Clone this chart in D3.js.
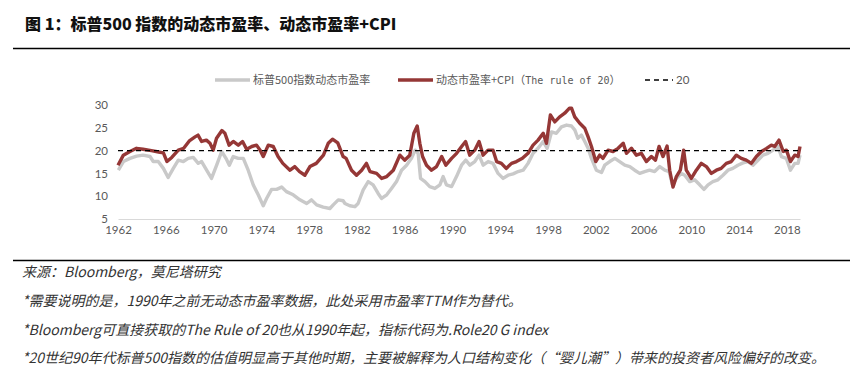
<!DOCTYPE html>
<html>
<head>
<meta charset="utf-8">
<script src="https://cdn.jsdelivr.net/npm/d3@7"></script>
<style>
  body { margin: 0; background: #fff; }
  svg { display: block; }
</style>
</head>
<body>
<div id="chart"></div>
<script>
// 标普500动态市盈率 (decimal year, value)
const peSeries = [
  [1962.03, 15.7], [1962.45, 17.6], [1963.0, 18.3], [1963.56, 18.8], [1964.1, 19.0],
  [1964.68, 18.7], [1964.95, 17.6], [1965.37, 17.6], [1965.8, 16.1], [1966.2, 14.1],
  [1966.63, 16.1], [1967.05, 17.9], [1967.47, 17.6], [1967.88, 18.3], [1968.3, 18.5],
  [1968.72, 17.2], [1969.0, 17.6], [1969.42, 15.7], [1969.83, 13.9], [1970.26, 16.8],
  [1970.68, 19.8], [1971.04, 18.3], [1971.32, 16.8], [1971.65, 18.7], [1972.07, 18.3],
  [1972.49, 18.3], [1972.9, 15.7], [1973.32, 12.5], [1973.74, 10.3], [1974.16, 7.9],
  [1974.44, 9.5], [1974.86, 11.5], [1975.28, 11.5], [1975.7, 12.0], [1976.1, 11.0],
  [1976.67, 10.3], [1977.23, 9.2], [1977.8, 8.4], [1978.2, 9.2], [1978.63, 8.1],
  [1979.18, 7.6], [1979.74, 7.3], [1980.02, 8.1], [1980.44, 9.2], [1980.85, 9.0],
  [1981.0, 8.4], [1981.41, 7.9], [1981.83, 7.7], [1982.1, 8.4], [1982.53, 11.4],
  [1982.95, 13.2], [1983.36, 12.5], [1983.78, 10.6], [1984.07, 9.5], [1984.5, 10.3],
  [1984.9, 11.7], [1985.32, 13.2], [1985.74, 15.7], [1986.16, 16.8], [1986.57, 18.3],
  [1986.88, 20.1], [1987.13, 19.4], [1987.33, 13.9], [1987.7, 13.2], [1988.1, 12.1],
  [1988.53, 11.7], [1988.95, 12.5], [1989.22, 14.3], [1989.5, 12.5], [1989.93, 12.1],
  [1990.34, 14.3], [1990.76, 16.8], [1991.12, 17.9], [1991.46, 16.8], [1991.87, 17.6],
  [1992.23, 19.0], [1992.57, 16.8], [1992.99, 17.6], [1993.4, 17.2], [1993.82, 15.0],
  [1994.24, 13.9], [1994.66, 14.6], [1995.08, 14.9], [1995.5, 15.4], [1995.92, 15.7],
  [1996.33, 17.2], [1996.75, 19.4], [1997.17, 20.5], [1997.6, 22.0], [1997.93, 20.5],
  [1998.3, 24.1], [1998.7, 23.8], [1999.13, 25.2], [1999.55, 25.6], [1999.97, 25.4],
  [2000.25, 24.5], [2000.5, 22.7], [2000.8, 23.4], [2001.08, 22.0], [2001.36, 20.5],
  [2001.64, 18.3], [2002.05, 15.7], [2002.48, 15.2], [2002.75, 16.8], [2003.17, 17.6],
  [2003.6, 18.3], [2004.0, 17.6], [2004.43, 16.8], [2004.85, 16.5], [2005.26, 15.7],
  [2005.68, 15.0], [2006.1, 15.4], [2006.5, 15.7], [2006.93, 15.4], [2007.36, 16.5],
  [2007.78, 15.7], [2008.14, 15.4], [2008.42, 12.5], [2008.75, 13.9], [2009.17, 15.0],
  [2009.45, 14.6], [2009.87, 13.2], [2010.28, 13.6], [2010.7, 12.5], [2011.06, 11.5],
  [2011.4, 12.5], [2011.8, 13.2], [2012.23, 13.6], [2012.65, 14.6], [2013.07, 15.7],
  [2013.48, 16.1], [2013.9, 16.8], [2014.33, 17.3], [2014.75, 17.6], [2015.16, 16.8],
  [2015.58, 17.9], [2016.0, 19.0], [2016.42, 19.4], [2016.84, 20.1], [2017.26, 20.9],
  [2017.54, 18.7], [2017.96, 18.3], [2018.3, 15.7], [2018.66, 17.2], [2018.94, 17.2],
  [2019.1, 19.0]
];

// 动态市盈率+CPI (The rule of 20)
const rule20Series = [
  [1962.0, 16.8], [1962.45, 19.0], [1963.0, 19.8], [1963.55, 20.5], [1964.1, 20.3],
  [1964.8, 20.0], [1965.4, 19.7], [1965.8, 19.5], [1966.1, 17.6], [1966.5, 18.5],
  [1967.05, 20.1], [1967.5, 20.5], [1968.0, 22.2], [1968.45, 23.0], [1968.7, 23.4],
  [1969.0, 22.0], [1969.4, 22.3], [1969.7, 21.6], [1969.97, 20.1], [1970.25, 22.7],
  [1970.7, 24.4], [1970.95, 23.8], [1971.3, 21.2], [1971.65, 22.0], [1972.07, 21.2],
  [1972.43, 22.0], [1972.77, 20.3], [1973.2, 20.9], [1973.6, 21.2], [1973.9, 20.1],
  [1974.16, 18.7], [1974.58, 21.2], [1975.0, 20.9], [1975.4, 18.7], [1975.8, 17.2],
  [1976.4, 15.7], [1976.8, 16.5], [1977.2, 15.4], [1977.65, 14.6], [1978.07, 16.5],
  [1978.6, 17.2], [1979.2, 19.0], [1979.6, 21.6], [1979.96, 22.5], [1980.4, 21.7],
  [1980.85, 18.7], [1981.1, 18.3], [1981.55, 15.7], [1981.97, 14.6], [1982.4, 15.7],
  [1982.8, 17.2], [1983.1, 15.4], [1983.65, 15.0], [1984.07, 13.9], [1984.5, 14.3],
  [1985.05, 15.7], [1985.6, 19.0], [1986.0, 17.9], [1986.43, 19.0], [1986.77, 23.8],
  [1987.05, 25.4], [1987.27, 21.6], [1987.5, 18.7], [1987.83, 16.8], [1988.25, 15.7],
  [1988.67, 16.5], [1989.1, 18.7], [1989.45, 16.8], [1989.93, 18.3], [1990.35, 19.4],
  [1990.77, 20.9], [1991.1, 22.0], [1991.45, 19.0], [1991.87, 20.1], [1992.23, 22.0],
  [1992.57, 19.0], [1992.98, 20.1], [1993.4, 20.1], [1993.7, 17.6], [1994.1, 17.2],
  [1994.5, 16.1], [1994.95, 17.2], [1995.36, 17.6], [1995.86, 18.3], [1996.33, 19.4],
  [1996.75, 21.2], [1997.17, 22.3], [1997.6, 23.8], [1997.87, 21.6], [1998.2, 27.8],
  [1998.57, 26.3], [1998.98, 27.4], [1999.4, 28.2], [1999.8, 29.3], [1999.97, 29.3],
  [2000.24, 27.4], [2000.66, 26.0], [2001.08, 24.9], [2001.36, 23.0], [2001.64, 20.9],
  [2002.0, 17.6], [2002.33, 19.0], [2002.6, 18.3], [2003.03, 20.1], [2003.45, 19.8],
  [2003.87, 20.5], [2004.3, 21.6], [2004.57, 19.4], [2004.99, 20.5], [2005.4, 19.0],
  [2005.82, 19.4], [2006.24, 17.6], [2006.66, 18.7], [2007.0, 17.9], [2007.3, 20.9],
  [2007.63, 18.7], [2007.97, 21.0], [2008.19, 15.7], [2008.47, 12.0], [2008.75, 14.3],
  [2009.08, 15.7], [2009.36, 20.1], [2009.58, 15.7], [2010.0, 13.9], [2010.42, 15.7],
  [2010.84, 17.2], [2011.26, 16.5], [2011.68, 15.0], [2012.1, 15.7], [2012.5, 16.1],
  [2012.93, 17.2], [2013.35, 17.6], [2013.77, 19.0], [2014.18, 18.3], [2014.6, 17.9],
  [2015.03, 17.2], [2015.45, 18.7], [2015.87, 19.8], [2016.3, 20.5], [2016.7, 21.2],
  [2016.98, 20.9], [2017.34, 22.3], [2017.7, 19.8], [2017.96, 20.1], [2018.3, 17.6],
  [2018.66, 19.0], [2018.94, 18.7], [2019.1, 20.9]
];

const ruleLevel = 20;
const xTicks = [1962, 1966, 1970, 1974, 1978, 1982, 1986, 1990, 1994, 1998, 2002, 2006, 2010, 2014, 2018];
const yTicks = [5, 10, 15, 20, 25, 30];

const titleText = "图 1：标普500 指数的动态市盈率、动态市盈率+CPI";
const notes = [
  "来源：Bloomberg，莫尼塔研究",
  "*需要说明的是，1990年之前无动态市盈率数据，此处采用市盈率TTM作为替代。",
  "*Bloomberg可直接获取的The Rule of 20也从1990年起，指标代码为.Role20 G index",
  "*20世纪90年代标普500指数的估值明显高于其他时期，主要被解释为人口结构变化（“婴儿潮”）带来的投资者风险偏好的改变。"
];

const width = 862, height = 383;
const grayColor = "#c9c9c9";
const redColor = "#953736";
const cjk = "'Noto Sans CJK SC', sans-serif";
const mono = "'DejaVu Sans Mono', 'Liberation Mono', monospace";
const axisFont = "Lato, 'Open Sans', sans-serif";

const svg = d3.select("#chart").append("svg")
  .attr("width", width)
  .attr("height", height);

// 标题
svg.append("text")
  .attr("x", 25).attr("y", 30)
  .attr("font-family", cjk)
  .attr("font-weight", 900)
  .attr("font-size", 16)
  .attr("fill", "#111")
  .text(titleText);

svg.append("line")
  .attr("x1", 13).attr("x2", 850)
  .attr("y1", 48.5).attr("y2", 48.5)
  .attr("stroke", "#000").attr("stroke-width", 1.5);

svg.append("line")
  .attr("x1", 13).attr("x2", 850)
  .attr("y1", 260.5).attr("y2", 260.5)
  .attr("stroke", "#000").attr("stroke-width", 1.5);

// 比例尺
const x = d3.scaleLinear().domain([1962, 2019.1]).range([118, 800]);
const y = d3.scaleLinear().domain([5, 30]).range([219, 105]);

// x 轴
const xAxis = svg.append("g")
  .attr("transform", `translate(0,${y(5)})`)
  .call(d3.axisBottom(x).tickValues(xTicks).tickFormat(d3.format("d")).tickSize(0).tickPadding(7));
xAxis.select(".domain").attr("stroke", "#d9d9d9").attr("stroke-width", 1.2);
xAxis.selectAll("text")
  .attr("font-family", axisFont).attr("font-size", 11.5).attr("fill", "#595959");

// y 轴
const yAxis = svg.append("g")
  .attr("transform", `translate(108,0)`)
  .call(d3.axisLeft(y).tickValues(yTicks).tickSize(0).tickPadding(0));
yAxis.select(".domain").remove();
yAxis.selectAll("text")
  .attr("font-family", axisFont).attr("font-size", 11.5).attr("fill", "#595959");

const line = d3.line()
  .x(d => x(d[0]))
  .y(d => y(d[1]));

svg.append("path")
  .datum(peSeries)
  .attr("d", line)
  .attr("fill", "none")
  .attr("stroke", grayColor)
  .attr("stroke-width", 3.4)
  .attr("stroke-linejoin", "round");

svg.append("path")
  .datum(rule20Series)
  .attr("d", line)
  .attr("fill", "none")
  .attr("stroke", redColor)
  .attr("stroke-width", 3.4)
  .attr("stroke-linejoin", "round");

svg.append("line")
  .attr("x1", x(1962)).attr("x2", x(2019.1))
  .attr("y1", y(ruleLevel)).attr("y2", y(ruleLevel))
  .attr("stroke", "#000")
  .attr("stroke-width", 1.3)
  .attr("stroke-dasharray", "5,4");

// 图例
const legendY = 80;
const legendItems = [
  { x: 215, w: 35, color: grayColor, sw: 3.4, dash: null, parts: [["标普500指数动态市盈率", cjk, 11]] },
  { x: 398, w: 35, color: redColor, sw: 3.4, dash: null,
    parts: [["动态市盈率+CPI（", cjk, 11], ["The rule of 20", mono, 10], ["）", cjk, 11]] },
  { x: 645, w: 28, color: "#000", sw: 1.3, dash: "5,4", parts: [["20", axisFont, 11.5]] }
];
const lg = svg.append("g");
legendItems.forEach(it => {
  lg.append("line")
    .attr("x1", it.x).attr("x2", it.x + it.w)
    .attr("y1", legendY).attr("y2", legendY)
    .attr("stroke", it.color)
    .attr("stroke-width", it.sw)
    .attr("stroke-dasharray", it.dash);
  const t = lg.append("text")
    .attr("x", it.x + it.w + 3).attr("y", legendY + 4)
    .attr("fill", "#595959");
  it.parts.forEach(p => {
    t.append("tspan")
      .attr("font-family", p[1])
      .attr("font-size", p[2])
      .text(p[0]);
  });
});

// 注释
const noteY = [272, 301, 330, 358];
svg.append("g").selectAll("text")
  .data(notes)
  .join("text")
  .attr("x", 22)
  .attr("y", (d, i) => noteY[i])
  .attr("dy", "0.35em")
  .attr("font-family", cjk)
  .attr("font-style", "italic")
  .attr("font-size", 14)
  .attr("fill", "#333")
  .text(d => d);
</script>
</body>
</html>
